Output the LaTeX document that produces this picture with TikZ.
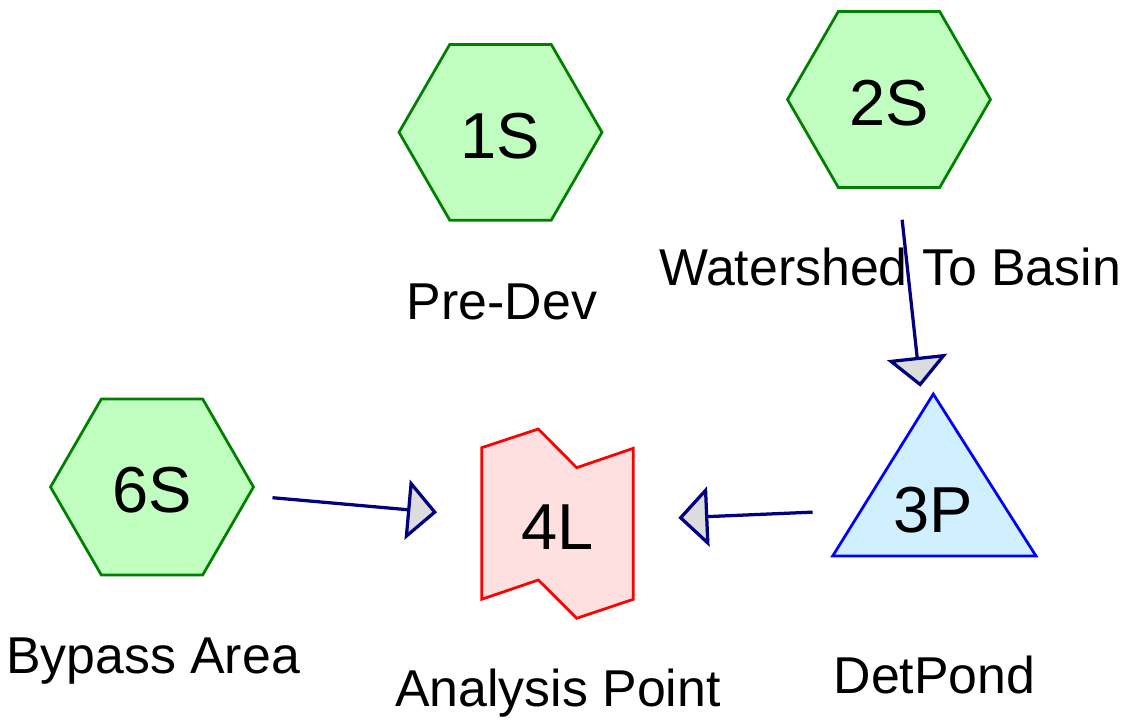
\documentclass[tikz,border=0pt]{standalone}
\usepackage{fontspec}
\setmainfont{Liberation Sans}
\usetikzlibrary{shapes.geometric}
\usetikzlibrary{arrows.meta}
\definecolor{hexfill}{RGB}{192,255,192}
\definecolor{hexline}{RGB}{0,128,0}
\definecolor{pondfill}{RGB}{208,240,255}
\definecolor{pondline}{RGB}{0,0,255}
\definecolor{linkfill}{RGB}{255,224,224}
\definecolor{linkline}{RGB}{255,0,0}
\definecolor{flowline}{RGB}{0,0,128}
\definecolor{headfill}{RGB}{220,220,220}
\tikzset{>=stealth}

\begin{document}
\begin{tikzpicture}[x=0.02cm, y=-0.02cm,
  bigtext/.style={font=\fontsize{37}{44}\selectfont, text height=1.05cm, inner sep=0pt},
  subcat/.style={bigtext, draw=hexline, fill=hexfill, line width=0.055cm,
  regular polygon, regular polygon sides=6, minimum size=4.06cm},
  pond/.style={draw=pondline, fill=pondfill, line width=0.055cm},
  reach/.style={draw=linkline, fill=linkfill, line width=0.055cm},
  caption/.style={font=\fontsize{29.5}{35}\selectfont, anchor=base, inner sep=0pt},
  flow/.style={draw=flowline, line width=0.065cm, shorten <=2.42cm, shorten >=2.42cm,
  -{Triangle[length=0.6cm, width=1.2cm, fill=headfill]}}]
  \useasboundingbox (0,0) rectangle (1127,724);
  %% Subcatchments
  \node [subcat] (S1) at (500.5,132.3) {1S};
  \node [subcat] (S2) at (889,99.5) {2S};
  \node [subcat] (S6) at (152,487) {6S};
  %% Pond and link outlines
  \path [pond] (933.3,394) -- (1036,556) -- (832.7,556) -- cycle;
  \path [reach] (481.7,447.7) -- (538.3,429) -- (576.7,467.7) -- (633.3,448.3)
  -- (633.3,599.3) -- (576.7,618.3) -- (538.3,580) -- (481.7,599.3) -- cycle;
  \node [bigtext] (P3) at (933.5,507) {3P};
  \node [bigtext] (L4) at (557.5,523) {4L};
  %% Captions
  \node [caption] (C1) at (502,319.3) {Pre-Dev};
  \node [caption] (C2) at (890,285) {Watershed To Basin};
  \node [caption] (C6) at (153,673.3) {Bypass Area};
  \node [caption] (C3) at (934.5,693.3) {DetPond};
  \node [caption] (C4) at (558,706.7) {Analysis Point};
  %% Arrows
  \path [flow] (S2.center) to (P3.center);
  \path [flow] (S6.center) to (L4.center);
  \path [flow] (P3.center) to (L4.center);
\end{tikzpicture}
\end{document}
